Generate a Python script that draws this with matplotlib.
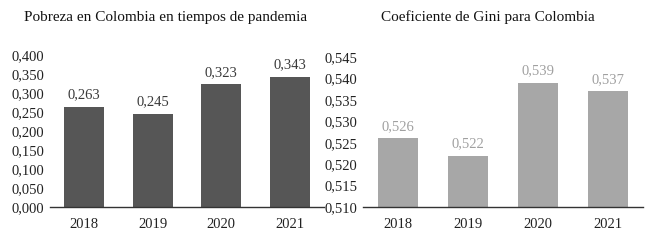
import numpy as np
import matplotlib.pyplot as plt
from matplotlib.ticker import FuncFormatter, MultipleLocator

# data
years = ['2018', '2019', '2020', '2021']
pobreza = [0.263, 0.245, 0.323, 0.343]
gini = [0.526, 0.522, 0.539, 0.537]

plt.rcParams['font.family'] = ['Liberation Serif', 'DejaVu Serif']


def coma(v, pos=None):
    # decimal comma, three decimals
    return '{:.3f}'.format(v).replace('.', ',')


def draw_bars(ax, values, color, label_color, ylim, step):
    x = np.arange(len(years))
    bars = ax.bar(x, values, width=0.58, color=color)
    ax.set_xlim(-0.5, len(years) - 0.5)
    ax.set_ylim(*ylim)
    ax.yaxis.set_major_locator(MultipleLocator(step))
    ax.yaxis.set_major_formatter(FuncFormatter(coma))
    ax.set_xticks(x)
    ax.set_xticklabels(years)
    for s in ['top', 'right', 'left']:
        ax.spines[s].set_visible(False)
    ax.spines['bottom'].set_color('#333333')
    ax.spines['bottom'].set_linewidth(1.0)
    ax.tick_params(axis='y', length=0, pad=4, labelsize=10.5, colors='#222222')
    ax.tick_params(axis='x', length=0, pad=8, labelsize=10.5, colors='#222222')
    # value labels above the bars
    for b, v in zip(bars, values):
        ax.annotate(coma(v), (b.get_x() + b.get_width() / 2, v),
                    xytext=(0, 4), textcoords='offset points',
                    ha='center', va='bottom', fontsize=10.5,
                    color=label_color, annotation_clip=False)


fig = plt.figure(figsize=(6.5, 2.45), dpi=100)

ax1 = fig.add_axes([50 / 650, 38 / 245, 274 / 650, 152 / 245])
draw_bars(ax1, pobreza, '#565656', '#3a3a3a', (0, 0.4), 0.05)

ax2 = fig.add_axes([363 / 650, 38 / 245, 280 / 650, 150 / 245])
draw_bars(ax2, gini, '#a7a7a7', '#a0a0a0', (0.51, 0.545), 0.005)

fig.text(166 / 650, 1 - 17 / 245, 'Pobreza en Colombia en tiempos de pandemia',
         ha='center', va='center', fontsize=11, color='#111111')
fig.text(488 / 650, 1 - 17 / 245, 'Coeficiente de Gini para Colombia',
         ha='center', va='center', fontsize=11, color='#111111')

fig.savefig('out.png', dpi=100)
